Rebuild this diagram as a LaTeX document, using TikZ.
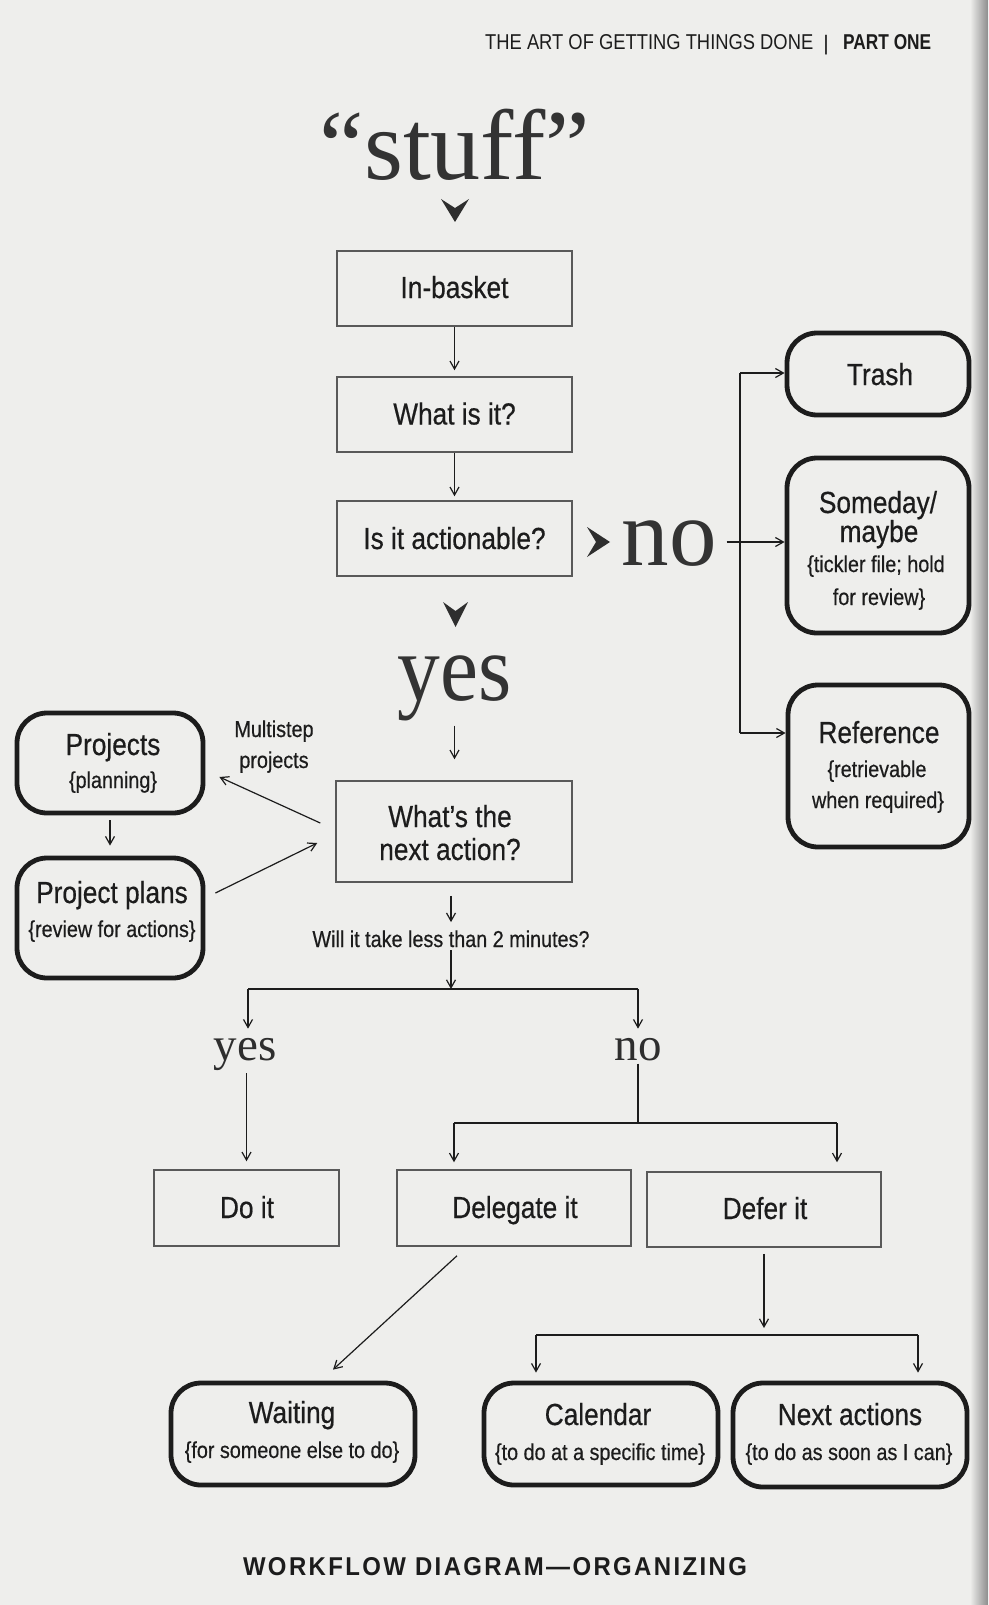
\documentclass[tikz,border=0pt]{standalone}
\usepackage{fontspec}
\setmainfont{Liberation Sans}
\newfontfamily\lab[FakeStretch=0.86,FakeBold=0.5]{Liberation Sans}
\newfontfamily\bigserif{Liberation Serif}
\newfontfamily\footfont[LetterSpace=10]{Liberation Sans}
\usetikzlibrary{arrows.meta,calc}
\definecolor{bg}{RGB}{238,238,236}
\definecolor{ink}{RGB}{28,28,28}
\tikzset{
  rbox/.style={draw=ink, line width=4.8pt, rounded corners=30pt, inner sep=0pt},
  sbox/.style={draw=black!65, line width=1.5pt, inner sep=0pt},
  arr/.style={-{Straight Barb[length=8pt,width=9pt]}, line width=1.2pt, draw=ink},
  ln/.style={line width=1.2pt, draw=ink},
  ttl/.style={font=\lab\fontsize{30.5}{32}\selectfont, anchor=base, inner sep=0pt, text=ink},
  sub/.style={font=\lab\fontsize{23}{25}\selectfont, anchor=base, inner sep=0pt, text=ink},
  bigword/.style={font=\bigserif\fontsize{95}{100}\selectfont, anchor=base, inner sep=0pt, text=black!80},
  smallword/.style={font=\bigserif\fontsize{47}{50}\selectfont, anchor=base, inner sep=0pt, text=black!82},
  chev/.style={fill=black!82, draw=none},
}
\begin{document}
\begin{tikzpicture}[x=1pt,y=-1pt]
\useasboundingbox (0,0) rectangle (988,1605);
\fill[bg] (0,0) rectangle (988,1605);
\shade[left color=bg, right color=black!45] (970,0) rectangle (988,1605);

% header
\node[anchor=base west, inner sep=0pt, text=ink] (hd1) at (485,49.5) {\resizebox{328pt}{15pt}{THE ART OF GETTING THINGS DONE}};
\node[anchor=base, inner sep=0pt, text=ink, font=\fontsize{21}{22}\selectfont] (hd2) at (826,51) {|};
\node[anchor=base west, inner sep=0pt, text=ink] (hd3) at (843,49.5) {\resizebox{88pt}{15pt}{\bfseries PART ONE}};

% stuff
\node[font=\bigserif\fontsize{100}{100}\selectfont, anchor=base, inner sep=0pt, text=black!80] (stuff) at (455,180) {“stuff”};
\fill[chev] (441,199) -- (455,222) -- (469,199) -- (455,208) -- cycle;

% main rectangles
\node[sbox, minimum width=235pt, minimum height=75pt] (inbasket) at (454.5,288.5) {};
\node[ttl] (inbasketT) at (454.5,298) {In-basket};
\node[sbox, minimum width=235pt, minimum height=75pt] (whatis) at (454.5,414.5) {};
\node[ttl] (whatisT) at (454.5,424.5) {What is it?};
\node[sbox, minimum width=235pt, minimum height=75pt] (action) at (454.5,538.5) {};
\node[ttl] (actionT) at (454.5,549) {Is it actionable?};

\draw[arr, shorten >=6pt] (inbasket.south) -- (whatis.north);
\draw[arr, shorten >=4pt] (whatis.south) -- (action.north);

% no branch
\fill[chev] (587,527) -- (610,542) -- (587,557) -- (596,542) -- cycle;
\node[bigword] (no) at (669,565) {no};

\node[rbox, minimum width=182pt, minimum height=82pt] (trash) at (878,374) {};
\node[ttl] (trashT) at (880,385) {Trash};
\node[rbox, minimum width=182pt, minimum height=175pt] (someday) at (878,545.5) {};
\node[ttl] (somedayT1) at (878,513) {Someday/};
\node[ttl] (somedayT2) at (879,542) {maybe};
\node[sub] (somedayS1) at (876,572) {\{tickler file; hold};
\node[sub] (somedayS2) at (879,605) {for review\}};
\node[rbox, minimum width=181pt, minimum height=162pt] (reference) at (878.5,766) {};
\node[ttl] (referenceT) at (879,743) {Reference};
\node[sub] (referenceS1) at (877,777) {\{retrievable};
\node[sub] (referenceS2) at (878,808) {when required\}};

\coordinate (vt) at (740,373);
\coordinate (vb) at (740,733);
\draw[ln] (vt) -- (vb);
\draw[arr] (vt) -- (trash.west |- vt);
\draw[arr] (vb) -- (reference.west |- vb);
\draw[arr, shorten <=10pt] (no.east |- 0,542) -- (someday.west |- 0,542);

% yes branch
\fill[chev] (443,602) -- (455.5,627) -- (468,602) -- (455.5,611) -- cycle;
\node[bigword] (yes) at (454.5,700) {\scalebox{0.9}[1]{yes}};
\node[sbox, minimum width=236pt, minimum height=101pt] (next) at (454,831.5) {};
\node[ttl] (nextT1) at (450,827) {What’s the};
\node[ttl] (nextT2) at (450,860) {next action?};
\draw[arr, shorten <=5pt, shorten >=21pt] (yes.south) -- (yes.south |- next.north);

% projects
\node[rbox, minimum width=186pt, minimum height=100pt] (projects) at (110,763) {};
\node[ttl] (projectsT) at (113,755) {Projects};
\node[sub] (projectsS) at (113,788) {\{planning\}};
\node[rbox, minimum width=186pt, minimum height=120pt] (plans) at (110,918) {};
\node[ttl] (plansT) at (112,903) {Project plans};
\node[sub] (plansS) at (112,937) {\{review for actions\}};
\node[sub] (multi1) at (274,737) {Multistep};
\node[sub] (multi2) at (274,768) {projects};

\draw[arr] ($(next.west)+(-15,-8.5)$) -- ($(projects.east)+(14,14)$);
\draw[arr] ($(plans.east)+(10,-25)$) -- ($(next.west)+(-18,11.5)$);
\draw[arr, shorten <=5pt, shorten >=10pt] (projects.south) -- (plans.north);

% two minutes
\node[sub] (will) at (451,947) {Will it take less than 2 minutes?};
\draw[arr, shorten <=13pt, shorten >=8pt] (next.south -| will) -- (will.north);
\coordinate (s1) at (451,989);
\coordinate (sy) at (248,989);
\coordinate (sn) at (638,989);
\draw[arr, shorten <=3pt] (will.south) -- (s1);
\draw[ln] (sy) -- (sn);
\node[smallword] (yes2) at (245,1060) {yes};
\node[smallword] (no2) at (638,1060) {no};
\draw[arr, shorten >=9pt] (sy) -- (sy |- yes2.north);
\draw[arr, shorten >=9pt] (sn) -- (no2.north);

\node[sbox, minimum width=185pt, minimum height=76pt] (doit) at (246.5,1208) {};
\node[ttl] (doitT) at (247,1218) {Do it};
\node[sbox, minimum width=234pt, minimum height=76pt] (deleg) at (514,1208) {};
\node[ttl] (delegT) at (515,1218) {Delegate it};
\node[sbox, minimum width=234pt, minimum height=75pt] (defer) at (764,1209.5) {};
\node[ttl] (deferT) at (765,1219) {Defer it};

\draw[arr, shorten <=3pt, shorten >=8pt] (yes2.south -| doit.north) -- (doit.north);
\coordinate (t1) at (638,1123);
\coordinate (tl) at (454,1123);
\coordinate (tr) at (837,1123);
\draw[ln, shorten <=3pt] (no2.south) -- (t1);
\draw[ln] (tl) -- (tr);
\draw[arr, shorten >=7pt] (tl) -- (tl |- deleg.north);
\draw[arr, shorten >=9pt] (tr) -- (tr |- defer.north);

% bottom row
\node[rbox, minimum width=244pt, minimum height=102pt] (waiting) at (293,1434) {};
\node[ttl] (waitingT) at (292,1423) {Waiting};
\node[sub] (waitingS) at (292,1458) {\{for someone else to do\}};
\node[rbox, minimum width=234pt, minimum height=102pt] (calendar) at (601,1434) {};
\node[ttl] (calendarT) at (598,1425) {Calendar};
\node[sub] (calendarS) at (600,1460) {\{to do at a specific time\}};
\node[rbox, minimum width=234pt, minimum height=104pt] (nextact) at (850,1435) {};
\node[ttl] (nextactT) at (850,1425) {Next actions};
\node[sub] (nextactS) at (849,1460) {\{to do as soon as I can\}};

\draw[arr] ($(deleg.south)+(-57,9)$) -- ($(waiting.north)+(40,-11)$);
\coordinate (u1) at (764,1335);
\coordinate (ul) at (536,1335);
\coordinate (ur) at (918,1335);
\draw[arr, shorten <=6pt, shorten >=7pt] (defer.south) -- (u1);
\draw[ln] (ul) -- (ur);
\draw[arr, shorten >=8pt] (ul) -- (ul |- calendar.north);
\draw[arr, shorten >=8pt] (ur) -- (ur |- nextact.north);

% footer
\node[anchor=base, inner sep=0pt, text=ink] (foot) at (495,1575) {\resizebox{504pt}{18pt}{\footfont\bfseries WORKFLOW DIAGRAM—ORGANIZING}};
\end{tikzpicture}
\end{document}
